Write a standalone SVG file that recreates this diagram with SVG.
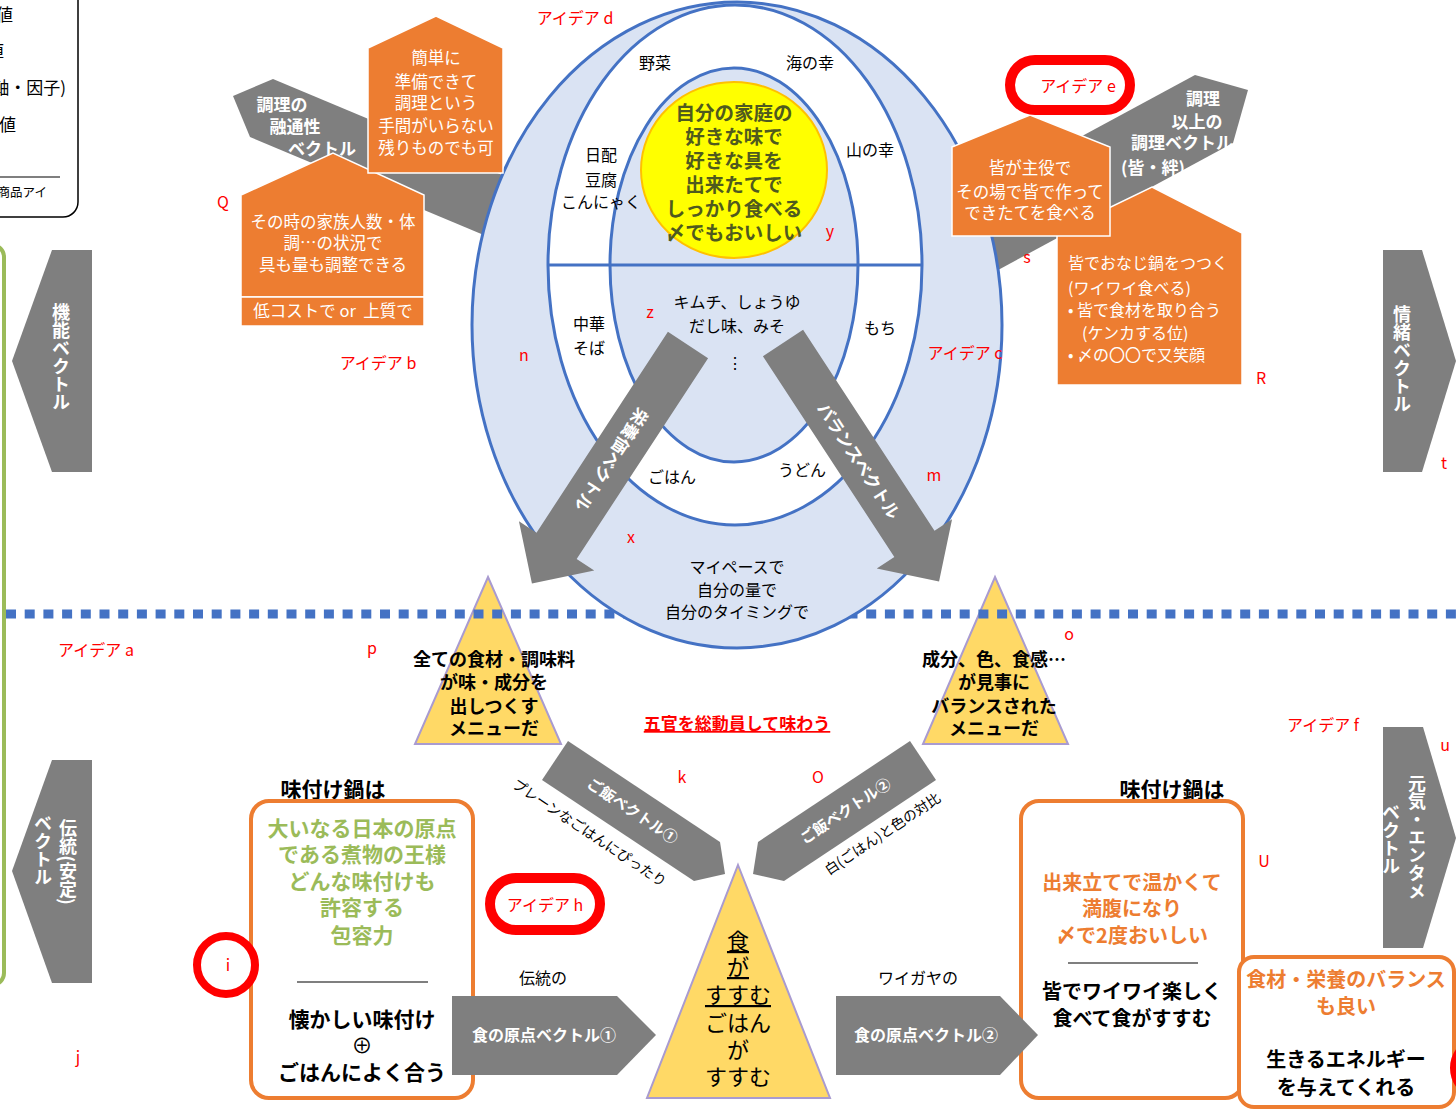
<svg xmlns="http://www.w3.org/2000/svg" width="1456" height="1112" viewBox="0 0 1456 1112">
<style>
text{font-family:"Noto Sans CJK JP","Noto Sans",sans-serif}
.gray{fill:#7F7F7F}
.wt{fill:#fff;font-weight:bold}
.red{fill:#FF0000;font-size:16px}
.lbl{fill:#000;font-size:16px;text-anchor:middle}
.ell{stroke:#4472C4;stroke-width:3}
.house{fill:#ED7D31;stroke:#fff;stroke-width:1.5}
.ht{fill:#fff;font-size:16.5px;text-anchor:middle}
.tri{fill:#FFD966;stroke:#A99BD0;stroke-width:2}
.tt{fill:#000;font-size:18px;font-weight:bold;text-anchor:middle}
.obox{fill:#fff;stroke:#ED7D31;stroke-width:4}
.vt{writing-mode:vertical-rl;fill:#fff;font-weight:bold;font-size:18px;text-anchor:middle}
.pill{fill:#fff;stroke:#FF0000;stroke-width:10}
</style>

<g id="legend">
<rect x="-30" y="-30" width="108" height="247" rx="15" fill="#fff" stroke="#000" stroke-width="1.5"/>
<text x="13" y="21" font-size="17" text-anchor="end">値</text>
<text x="4" y="57" font-size="17" text-anchor="end">値</text>
<text x="66" y="94" font-size="17" text-anchor="end">軸・因子)</text>
<text x="16" y="131" font-size="17" text-anchor="end">値</text>
<line x1="0" y1="177" x2="60" y2="177" stroke="#000" stroke-width="1.2"/>
<text x="47" y="197" font-size="12.5" text-anchor="end">商品アイ</text>
</g>

<g id="green-frame">
<rect x="-40" y="245" width="44" height="740" rx="12" fill="none" stroke="#9BBB59" stroke-width="4"/>
</g>

<g id="vec-kinou">
<polygon class="gray" points="92,250 52,250 12,361 52,472 92,472"/>
<text class="vt" x="61" y="357">機能ベクトル</text>
</g>
<g id="vec-dentou">
<polygon class="gray" points="92,760 52,760 12,871 52,983 92,983"/>
<text class="vt" x="68" y="862">伝統(安定)</text>
<text class="vt" x="43" y="850">ベクトル</text>
</g>
<g id="vec-jouchoo">
<polygon class="gray" points="1383,250 1422,250 1456,361 1422,472 1383,472"/>
<text class="vt" x="1402" y="359">情緒ベクトル</text>
</g>
<g id="vec-genki">
<polygon class="gray" points="1383,727 1423,727 1456,838 1423,948 1383,948"/>
<text class="vt" x="1417" y="837">元気・エンタメ</text>
<text class="vt" x="1391" y="839">ベクトル</text>
</g>

<g id="tri-left">
<polygon class="tri" points="488,577 561,744 415,744"/>
<text class="tt" x="494" y="666">全ての食材・調味料</text>
<text class="tt" x="494" y="689">が味・成分を</text>
<text class="tt" x="494" y="713">出しつくす</text>
<text class="tt" x="494" y="735">メニューだ</text>
</g>
<g id="tri-right">
<polygon class="tri" points="995,577 1068,744 923,744"/>
<text class="tt" x="994" y="666">成分、色、食感…</text>
<text class="tt" x="994" y="689">が見事に</text>
<text class="tt" x="994" y="713">バランスされた</text>
<text class="tt" x="994" y="735">メニューだ</text>
</g>

<g id="connectors">
<line x1="6" y1="614" x2="1456" y2="614" stroke="#4472C4" stroke-width="9" stroke-dasharray="10 8.7"/>
</g>

<g id="vec-yuuzuu">
<polygon class="gray" points="233,96 273,79 550,195 527,253 250,137"/>
<text class="wt" font-size="17" x="282" y="111" text-anchor="middle">調理の</text>
<text class="wt" font-size="17" x="295" y="133" text-anchor="middle">融通性</text>
<text class="wt" font-size="17" x="322" y="155" text-anchor="middle">ベクトル</text>
</g>
<g id="vec-ijou">
<polygon class="gray" points="949,208 1195,75 1248,90 1233,143 987,276"/>
<text class="wt" font-size="17" x="1203" y="105" text-anchor="middle">調理</text>
<text class="wt" font-size="17" x="1197" y="128" text-anchor="middle">以上の</text>
<text class="wt" font-size="17" x="1182" y="149" text-anchor="middle">調理ベクトル</text>
<text class="wt" font-size="17" x="1153" y="174" text-anchor="middle">(皆・絆)</text>
</g>

<g id="ellipse">
<ellipse class="ell" cx="737" cy="325" rx="265" ry="323" fill="#DAE3F3"/>
<ellipse class="ell" cx="735" cy="265" rx="187" ry="260" fill="#fff"/>
<ellipse class="ell" cx="734" cy="265" rx="124" ry="197" fill="#DAE3F3"/>
<line x1="548" y1="265" x2="922" y2="265" stroke="#4472C4" stroke-width="3"/>
<ellipse cx="734" cy="170" rx="93" ry="88" fill="#FFFF00" stroke="#FFC000" stroke-width="2"/>
<g fill="#4F5A1E" font-size="19.5" font-weight="bold" text-anchor="middle">
<text x="734" y="120">自分の家庭の</text>
<text x="734" y="144">好きな味で</text>
<text x="734" y="168">好きな具を</text>
<text x="734" y="192">出来たてで</text>
<text x="734" y="216">しっかり食べる</text>
<text x="734" y="240">〆でもおいしい</text>
</g>
<text class="lbl" x="655" y="69">野菜</text>
<text class="lbl" x="810" y="69">海の幸</text>
<text class="lbl" x="601" y="161">日配</text>
<text class="lbl" x="601" y="186">豆腐</text>
<text class="lbl" x="601" y="208" font-size="15">こんにゃく</text>
<text class="lbl" x="870" y="156">山の幸</text>
<text class="lbl" x="589" y="330">中華</text>
<text class="lbl" x="589" y="354">そば</text>
<text class="lbl" x="880" y="334">もち</text>
<text class="lbl" x="737" y="308" font-size="15">キムチ、しょうゆ</text>
<text class="lbl" x="737" y="332" font-size="15">だし味、みそ</text>
<text class="lbl" x="735" y="369">⋮</text>
<text class="lbl" x="672" y="483">ごはん</text>
<text class="lbl" x="802" y="476">うどん</text>
<text class="lbl" x="737" y="573" font-size="15">マイペースで</text>
<text class="lbl" x="737" y="596" font-size="15">自分の量で</text>
<text class="lbl" x="737" y="618" font-size="15">自分のタイミングで</text>
</g>

<g id="house-kazoku">
<polygon class="house" points="241,195 333,153 424,195 424,297 241,297"/>
<rect class="house" x="241" y="297" width="183" height="29"/>
<text class="ht" x="333" y="228">その時の家族人数・体</text>
<text class="ht" x="333" y="249">調…の状況で</text>
<text class="ht" x="333" y="271">具も量も調整できる</text>
<text class="ht" x="333" y="317">低コストで or&#160; 上質で</text>
</g>
<g id="house-kantan">
<polygon class="house" points="368,48 436,16 503,48 503,173 368,173"/>
<text class="ht" x="436" y="64">簡単に</text>
<text class="ht" x="436" y="88">準備できて</text>
<text class="ht" x="436" y="109">調理という</text>
<text class="ht" x="436" y="132">手間がいらない</text>
<text class="ht" x="436" y="154">残りものでも可</text>
</g>
<g id="house-nabe">
<polygon class="house" points="1057,233 1152,187 1242,233 1242,385 1057,385"/>
<g fill="#fff" font-size="16">
<text x="1068" y="269">皆でおなじ鍋をつつく</text>
<text x="1068" y="294">(ワイワイ食べる)</text>
<text x="1068" y="316">• 皆で食材を取り合う</text>
<text x="1082" y="339">(ケンカする位)</text>
<text x="1068" y="361">• 〆の〇〇で又笑顔</text>
</g>
</g>
<g id="house-shuyaku">
<polygon class="house" points="952,147 1030,115 1110,147 1110,236 952,236"/>
<text class="ht" x="1030" y="174">皆が主役で</text>
<text class="ht" x="1030" y="198">その場で皆で作って</text>
<text class="ht" x="1030" y="219">できたてを食べる</text>
</g>

<g id="vec-eiyou">
<g transform="translate(688,345) rotate(123.2)">
<polygon class="gray" points="0,-24 240,-24 240,-45 285,0 240,45 240,24 0,24"/>
<text class="wt" font-size="17" x="138" y="0" dominant-baseline="central" text-anchor="middle">栄養価ベクトル</text>
</g>
</g>
<g id="vec-balance">
<g transform="translate(783,343) rotate(56.8)">
<polygon class="gray" points="0,-24 240,-24 240,-45 285,0 240,45 240,24 0,24"/>
<text class="wt" font-size="17" x="140" y="0" dominant-baseline="central" text-anchor="middle">バランスベクトル</text>
</g>
</g>

<g id="title-gokan">
<text x="737" y="730" fill="#FF0000" font-size="17" font-weight="bold" text-anchor="middle" text-decoration="underline">五官を総動員して味わう</text>
</g>

<g id="vec-gohan1">
<polygon class="gray" points="568,741 720,842 725,874 694,881 542,780"/>
<text class="wt" font-size="15" transform="translate(633,810) rotate(33.6)" text-anchor="middle" dominant-baseline="central">ご飯ベクトル①</text>
<text font-size="14" transform="translate(590,832) rotate(33.6)" text-anchor="middle" dominant-baseline="central">プレーンなごはんにぴったり</text>
</g>
<g id="vec-gohan2">
<polygon class="gray" points="910,741 758,842 753,874 784,881 936,780"/>
<text class="wt" font-size="15" transform="translate(845,810) rotate(-33.6)" text-anchor="middle" dominant-baseline="central">ご飯ベクトル②</text>
<text font-size="14" transform="translate(882,833) rotate(-33.6)" text-anchor="middle" dominant-baseline="central">白(ごはん)と色の対比</text>
</g>

<g id="tri-center">
<polygon class="tri" points="738,865 830,1098 647,1098"/>
<g font-size="22" text-anchor="middle" fill="#000">
<text x="738" y="949" text-decoration="underline">食</text>
<text x="738" y="975" text-decoration="underline">が</text>
<text x="738" y="1003" text-decoration="underline">すすむ</text>
<text x="738" y="1031">ごはん</text>
<text x="738" y="1058">が</text>
<text x="738" y="1085">すすむ</text>
</g>
</g>

<g id="box-left">
<text x="333" y="797" font-size="21" font-weight="bold" text-anchor="middle">味付け鍋は</text>
<rect class="obox" x="251" y="801" width="222" height="297" rx="18"/>
<g fill="#9BBB59" font-size="21" font-weight="bold" text-anchor="middle">
<text x="362" y="836">大いなる日本の原点</text>
<text x="362" y="862">である煮物の王様</text>
<text x="362" y="889">どんな味付けも</text>
<text x="362" y="915">許容する</text>
<text x="362" y="943">包容力</text>
</g>
<line x1="297" y1="982" x2="428" y2="982" stroke="#000" stroke-width="1.2"/>
<g fill="#000" font-size="21" font-weight="bold" text-anchor="middle">
<text x="362" y="1027">懐かしい味付け</text>
<text x="362" y="1053" font-weight="normal">⊕</text>
<text x="362" y="1080">ごはんによく合う</text>
</g>
</g>

<g id="box-right">
<text x="1172" y="797" font-size="21" font-weight="bold" text-anchor="middle">味付け鍋は</text>
<rect class="obox" x="1021" y="801" width="222" height="297" rx="18"/>
<g fill="#ED7D31" font-size="20" font-weight="bold" text-anchor="middle">
<text x="1132" y="890">出来立てで温かくて</text>
<text x="1132" y="916">満腹になり</text>
<text x="1132" y="943">〆で2度おいしい</text>
</g>
<line x1="1068" y1="963" x2="1198" y2="963" stroke="#000" stroke-width="1.2"/>
<g fill="#000" font-size="20" font-weight="bold" text-anchor="middle">
<text x="1132" y="999">皆でワイワイ楽しく</text>
<text x="1132" y="1026">食べて食がすすむ</text>
</g>
</g>

<g id="box-balance">
<rect class="obox" x="1239" y="957" width="215" height="150" rx="15"/>
<g fill="#ED7D31" font-size="20" font-weight="bold" text-anchor="middle">
<text x="1346" y="987">食材・栄養のバランス</text>
<text x="1346" y="1014">も良い</text>
</g>
<g fill="#000" font-size="20" font-weight="bold" text-anchor="middle">
<text x="1346" y="1067">生きるエネルギー</text>
<text x="1346" y="1095">を与えてくれる</text>
</g>
</g>

<g id="vec-genten1">
<polygon class="gray" points="452,996 617,996 656,1035 617,1075 452,1075"/>
<text class="wt" font-size="16" x="544" y="1041" text-anchor="middle">食の原点ベクトル①</text>
<text x="543" y="984" font-size="16" text-anchor="middle">伝統の</text>
</g>
<g id="vec-genten2">
<polygon class="gray" points="836,996 1000,996 1038,1035 1000,1075 836,1075"/>
<text class="wt" font-size="16" x="926" y="1041" text-anchor="middle">食の原点ベクトル②</text>
<text x="918" y="984" font-size="16" text-anchor="middle">ワイガヤの</text>
</g>

<g id="markers">
<rect class="pill" x="1010" y="60" width="120" height="50" rx="25"/>
<text class="red" x="1078" y="92" text-anchor="middle">アイデア e</text>
<rect class="pill" x="490" y="878" width="110" height="52" rx="26"/>
<text class="red" x="545" y="911" text-anchor="middle">アイデア h</text>
<circle cx="226" cy="965" r="29" fill="#fff" stroke="#FF0000" stroke-width="8"/>
<text class="red" x="228" y="971" text-anchor="middle">i</text>
<circle cx="1482" cy="1068" r="28" fill="none" stroke="#FF0000" stroke-width="8"/>
</g>

<g id="red-labels" text-anchor="middle">
<text class="red" x="575" y="24">アイデア d</text>
<text class="red" x="223" y="208" font-size="17">Q</text>
<text class="red" x="378" y="369">アイデア b</text>
<text class="red" x="650" y="318">z</text>
<text class="red" x="524" y="361">n</text>
<text class="red" x="631" y="543">x</text>
<text class="red" x="934" y="481">m</text>
<text class="red" x="965" y="359">アイデア c</text>
<text class="red" x="830" y="237">y</text>
<text class="red" x="1027" y="263">s</text>
<text class="red" x="1261" y="384">R</text>
<text class="red" x="1444" y="469">t</text>
<text class="red" x="96" y="656">アイデア a</text>
<text class="red" x="372" y="654">p</text>
<text class="red" x="1069" y="640">o</text>
<text class="red" x="818" y="783">O</text>
<text class="red" x="682" y="783">k</text>
<text class="red" x="1323" y="731">アイデア f</text>
<text class="red" x="1445" y="751">u</text>
<text class="red" x="1264" y="867">U</text>
<text class="red" x="78" y="1063">j</text>
</g>
</svg>
